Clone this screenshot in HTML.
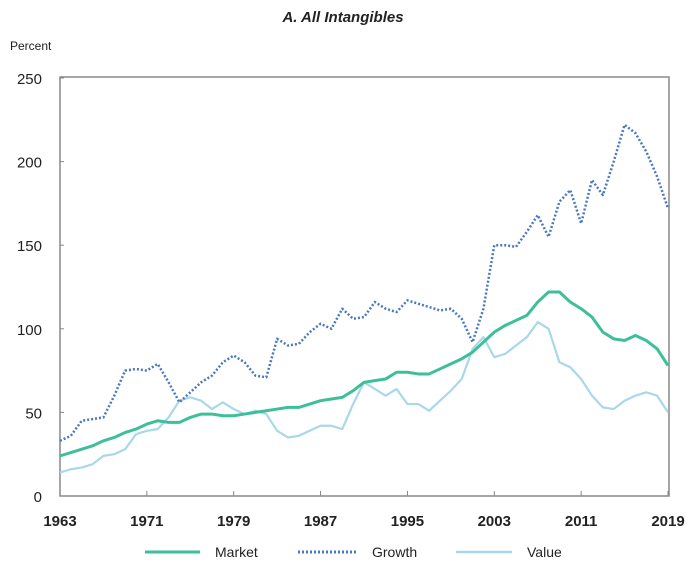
<!DOCTYPE html>
<html><head><meta charset="utf-8"><style>
body{margin:0;background:#fff;font-family:"Liberation Sans",sans-serif;}
svg text{font-family:"Liberation Sans",sans-serif;fill:#222;}
</style></head><body>
<svg width="687" height="570">
<text x="343" y="22" text-anchor="middle" font-size="15" font-weight="bold" font-style="italic">A. All Intangibles</text>
<text x="10" y="50" font-size="12">Percent</text>
<rect x="60" y="77" width="609" height="419" fill="none" stroke="#888" stroke-width="1.5"/>
<g id="axes"></g>
<g id="series"></g>
<g id="legend">
<line x1="145" y1="552" x2="200" y2="552" stroke="#3dbf9a" stroke-width="3"/>
<text x="215" y="557" font-size="14">Market</text>
<line x1="298" y1="552" x2="356" y2="552" stroke="#4a78c0" stroke-width="3" stroke-dasharray="2,2"/>
<text x="372" y="557" font-size="14">Growth</text>
<line x1="456" y1="552" x2="512" y2="552" stroke="#a8d8ea" stroke-width="2.5"/>
<text x="527" y="557" font-size="14">Value</text>
</g>
</svg>
<script>
const years=[];for(let y=1963;y<=2019;y++)years.push(y);
const market=[24,26,28,30,33,35,38,40,43,45,44,44,47,49,49,48,48,49,50,51,52,53,53,55,57,58,59,63,68,69,70,74,74,73,73,76,79,82,86,92,98,102,105,108,116,122,122,116,112,107,98,94,93,96,93,88,78];
const growth=[33,36,45,46,47,60,75,76,75,79,68,56,62,68,72,80,84,80,72,71,94,90,91,98,103,100,112,106,107,116,112,110,117,115,113,111,112,106,92,112,150,150,149,158,168,155,176,183,163,189,180,200,222,217,206,191,172];
const value=[14,16,17,19,24,25,28,37,39,40,47,57,59,57,52,56,52,49,51,49,39,35,36,39,42,42,40,55,68,64,60,64,55,55,51,57,63,70,88,95,83,85,90,95,104,100,80,77,70,60,53,52,57,60,62,60,50];
const yTicks=[0,50,100,150,200,250];
const xTicks=[1963,1971,1979,1987,1995,2003,2011,2019];
const NS='http://www.w3.org/2000/svg';
const X=y=>60+(y-1963)*(668-60)/56;
const Y=v=>496-v*(496-78)/250;
const ax=document.getElementById('axes');
function mk(t,a,p){const e=document.createElementNS(NS,t);for(const k in a)e.setAttribute(k,a[k]);p.appendChild(e);return e;}
yTicks.forEach(v=>{
 const t=mk('text',{x:42,y:Y(v)+6,'text-anchor':'end','font-size':15},ax);t.textContent=v;
 
 
 const l=mk('line',{x1:60,x2:64,y1:Y(v),y2:Y(v),stroke:'#888'},ax);
 
 
});
xTicks.forEach(v=>{
 const t=mk('text',{x:X(v),y:526,'text-anchor':'middle','font-size':15,'font-weight':'bold'},ax);t.textContent=v;
 
 
 const l=mk('line',{x1:X(v),x2:X(v),y1:496,y2:491,stroke:'#888'},ax);
 
 
});
const sg=document.getElementById('series');
function line(d,st,w,dash,name){
 const p=mk('polyline',{points:d.map((v,i)=>X(years[i])+','+Y(v)).join(' '),fill:'none',stroke:st,'stroke-width':w,'stroke-linejoin':'round'},sg);
 if(dash)p.setAttribute('stroke-dasharray',dash);
 
 
}
line(value,'#a8d8ea',2.2,null,'value-line');
line(growth,'#4a78c0',2.5,'2,2','growth-line');
line(market,'#3dbf9a',3,null,'market-line');
</script>
</body></html>
